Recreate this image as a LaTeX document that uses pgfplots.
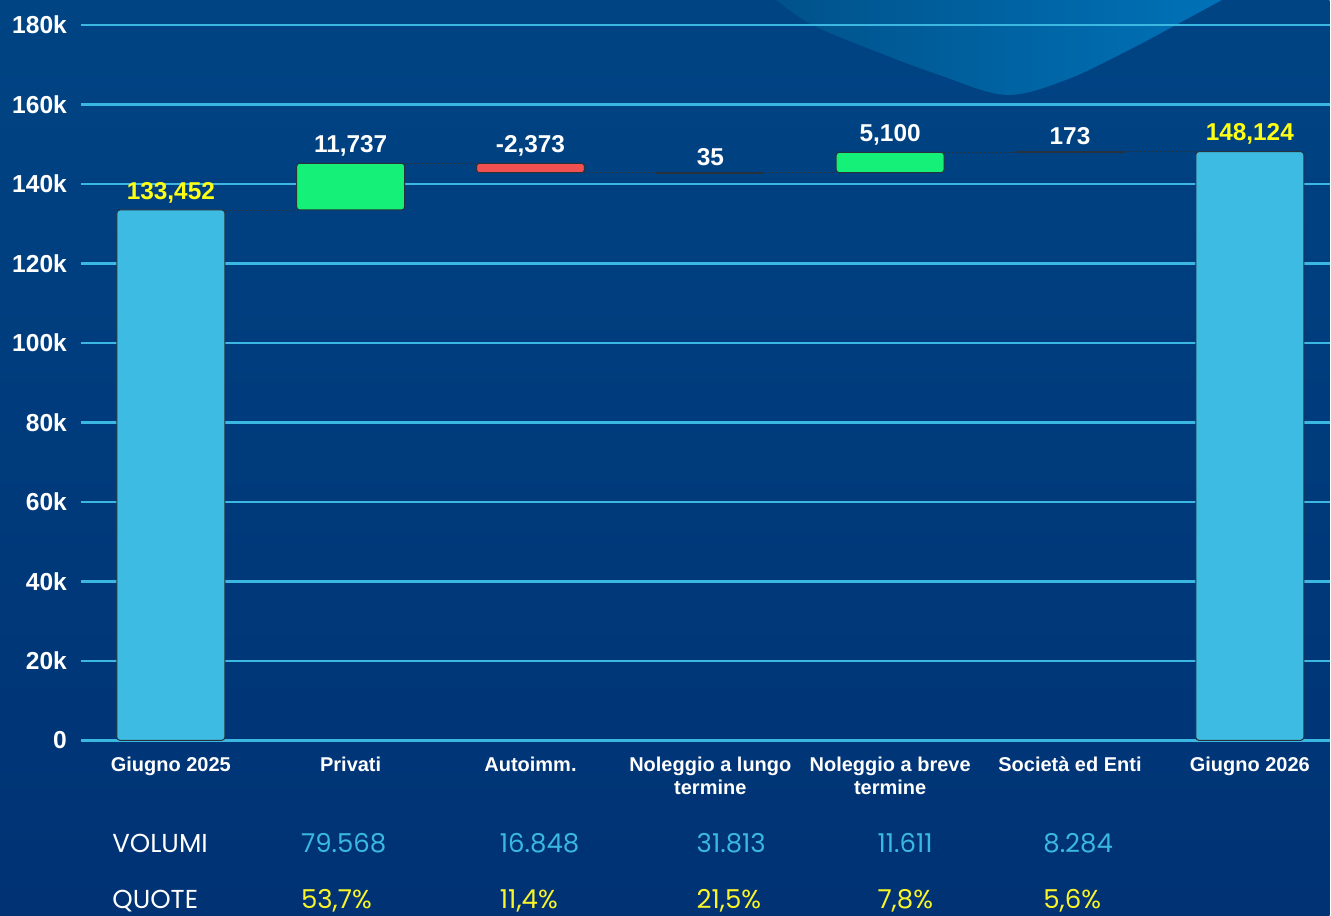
\documentclass[border=0pt]{standalone}
\usepackage{pgfplots}
\pgfplotsset{compat=1.18}
\usepackage{fontspec}
\setmainfont{Liberation Sans}
\newfontfamily\pop{Poppins}
\definecolor{bgtop}{RGB}{0,68,132}
\definecolor{bgbot}{RGB}{0,50,116}
\definecolor{wavel}{RGB}{0,82,138}
\definecolor{waver}{RGB}{0,114,184}
\definecolor{gridc}{RGB}{59,184,226}
\definecolor{barblue}{RGB}{61,187,227}
\definecolor{greenbar}{RGB}{20,240,120}
\definecolor{redbar}{RGB}{240,80,80}
\definecolor{edge}{RGB}{40,50,60}
\definecolor{yel}{RGB}{255,255,20}
\definecolor{yel2}{RGB}{250,245,40}
\begin{document}
\begin{tikzpicture}[x=1pt,y=1pt]
\shade[top color=bgtop, bottom color=bgbot] (0,0) rectangle (665.5,458);
\shade[left color=wavel, right color=waver] plot[smooth,tension=0.55] coordinates {(388.5,458) (406.5,445.5) (436.5,433) (470,420.5) (503.5,410.5) (533.5,418) (565,433) (588.5,445.5) (611.5,458)} -- cycle;
\begin{axis}[
  at={(40.5pt,87.5pt)}, anchor=south west,
  scale only axis, width=625pt, height=358pt,
  xmin=-0.5, xmax=6.4444, ymin=0, ymax=180000,
  axis x line*=bottom, axis y line*=left,
  axis line style={draw=none},
  major tick length=0pt,
  ymajorgrids, grid style={gridc, line width=1.3pt},
  ytick={0,20000,40000,60000,80000,100000,120000,140000,160000,180000},
  yticklabels={0,20k,40k,60k,80k,100k,120k,140k,160k,180k},
  scaled y ticks=false,
  xtick={0,1,2,3,4,5,6},
  xticklabels={Giugno 2025, Privati, Autoimm., Noleggio a lungo\\termine, Noleggio a breve\\termine, Società ed Enti, Giugno 2026},
  xticklabel style={align=center, font=\bfseries\fontsize{10}{11.5}\selectfont, text=white, yshift=-5pt},
  yticklabel style={font=\bfseries\fontsize{12.3}{14}\selectfont, text=white, xshift=-3.5pt},
  clip=false,
]
% connectors
\addplot[edge, dash pattern=on 1pt off 1pt, line width=0.4pt] coordinates {(0.3,133452) (0.7,133452)};
\addplot[edge, dash pattern=on 1pt off 1pt, line width=0.4pt] coordinates {(1.3,145189) (1.7,145189)};
\addplot[edge, dash pattern=on 1pt off 1pt, line width=0.4pt] coordinates {(2.3,142816) (2.7,142816)};
\addplot[edge, dash pattern=on 1pt off 1pt, line width=0.4pt] coordinates {(3.3,142851) (3.7,142851)};
\addplot[edge, dash pattern=on 1pt off 1pt, line width=0.4pt] coordinates {(4.3,147951) (4.7,147951)};
\addplot[edge, dash pattern=on 1pt off 1pt, line width=0.4pt] coordinates {(5.3,148124) (5.7,148124)};
% bars
\addplot[fill=barblue, draw=edge, line width=0.5pt, rounded corners=1.5pt] coordinates {(-0.3,0) (0.3,0) (0.3,133452) (-0.3,133452)} -- cycle;
\addplot[fill=greenbar, draw=edge, line width=0.5pt, rounded corners=1.5pt] coordinates {(0.7,133452) (1.3,133452) (1.3,145189) (0.7,145189)} -- cycle;
\addplot[fill=redbar, draw=edge, line width=0.5pt, rounded corners=1.5pt] coordinates {(1.7,142816) (2.3,142816) (2.3,145189) (1.7,145189)} -- cycle;
\addplot[fill=edge, draw=edge, line width=0.6pt] coordinates {(2.7,142816) (3.3,142816) (3.3,142851) (2.7,142851)} -- cycle;
\addplot[fill=greenbar, draw=edge, line width=0.5pt, rounded corners=1.5pt] coordinates {(3.7,142851) (4.3,142851) (4.3,147951) (3.7,147951)} -- cycle;
\addplot[fill=edge, draw=edge, line width=0.6pt] coordinates {(4.7,147951) (5.3,147951) (5.3,148124) (4.7,148124)} -- cycle;
\addplot[fill=barblue, draw=edge, line width=0.5pt, rounded corners=1.5pt] coordinates {(5.7,0) (6.3,0) (6.3,148124) (5.7,148124)} -- cycle;
% labels
\node[anchor=south, font=\bfseries\fontsize{12.2}{14}\selectfont, text=yel] at (axis cs:0,133452) {133,452};
\node[anchor=south, font=\bfseries\fontsize{12.2}{14}\selectfont, text=white] at (axis cs:1,145189) {11,737};
\node[anchor=south, font=\bfseries\fontsize{12.2}{14}\selectfont, text=white] at (axis cs:2,145189) {-2,373};
\node[anchor=south, font=\bfseries\fontsize{12.2}{14}\selectfont, text=white] at (axis cs:3,142851) {35};
\node[anchor=south, font=\bfseries\fontsize{12.2}{14}\selectfont, text=white] at (axis cs:4,147951) {5,100};
\node[anchor=south, font=\bfseries\fontsize{12.2}{14}\selectfont, text=white] at (axis cs:5,148124) {173};
\node[anchor=south, font=\bfseries\fontsize{12.2}{14}\selectfont, text=yel] at (axis cs:6,148124) {148,124};
\end{axis}
% table rows
\begin{scope}[every node/.style={anchor=base west, inner sep=0pt, font=\pop\fontsize{13}{15}\selectfont}]
\node[text=white] at (56,31.5) {VOLUMI};
\node[text=gridc] at (150.5,31.5) {79.568};
\node[text=gridc] at (250,31.5) {16.848};
\node[text=gridc] at (348.5,31.5) {31.813};
\node[text=gridc] at (439,31.5) {11.611};
\node[text=gridc] at (522,31.5) {8.284};
\node[text=white] at (56,3.5) {QUOTE};
\node[text=yel2] at (150.5,3.5) {53,7\%};
\node[text=yel2] at (250,3.5) {11,4\%};
\node[text=yel2] at (348.5,3.5) {21,5\%};
\node[text=yel2] at (439,3.5) {7,8\%};
\node[text=yel2] at (522,3.5) {5,6\%};
\end{scope}
\end{tikzpicture}
\end{document}
